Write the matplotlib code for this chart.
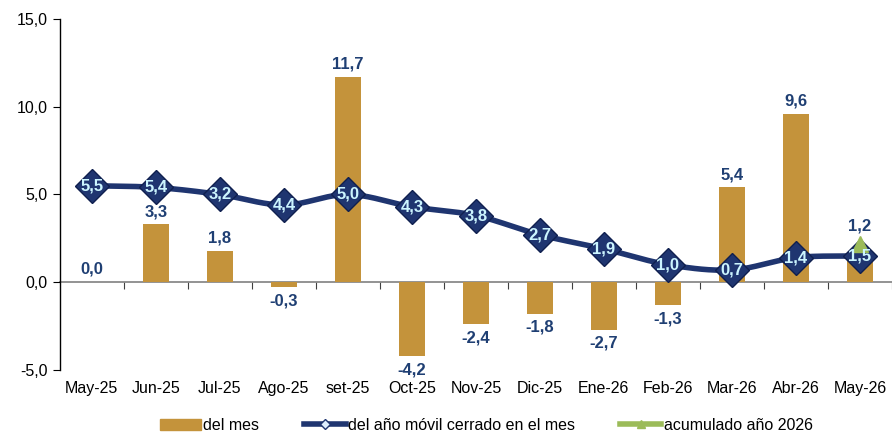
import numpy as np
import matplotlib
matplotlib.use("Agg")
from matplotlib import pyplot as plt
from matplotlib.lines import Line2D
from matplotlib.patches import Patch

plt.rcParams['font.family'] = ['Liberation Sans', 'DejaVu Sans']

months = ['May-25', 'Jun-25', 'Jul-25', 'Ago-25', 'set-25', 'Oct-25', 'Nov-25',
          'Dic-25', 'Ene-26', 'Feb-26', 'Mar-26', 'Abr-26', 'May-26']
del_mes = [0.0, 3.3, 1.8, -0.3, 11.7, -4.2, -2.4, -1.8, -2.7, -1.3, 5.4, 9.6, 1.2]
movil = [5.5, 5.4, 5.0, 4.4, 5.0, 4.3, 3.8, 2.7, 1.9, 1.0, 0.7, 1.4, 1.5]
movil_labels = ['5,5', '5,4', '3,2', '4,4', '5,0', '4,3', '3,8', '2,7', '1,9',
                '1,0', '0,7', '1,4', '1,5']
acum_idx = [12]
acum = [2.2]

gold = '#C4933B'
navy = '#1F3570'
label_blue = '#1F3F73'
green = '#9BBB59'

def smooth(xs, ys, n=20):
    # catmull-rom curve through the points, like Excel's smoothed line
    xs = np.asarray(xs, float)
    ys = np.asarray(ys, float)
    px = np.concatenate([[2 * xs[0] - xs[1]], xs, [2 * xs[-1] - xs[-2]]])
    py = np.concatenate([[2 * ys[0] - ys[1]], ys, [2 * ys[-1] - ys[-2]]])
    t = np.linspace(0, 1, n)
    ox, oy = [], []
    for i in range(1, len(px) - 2):
        for p, o in ((px, ox), (py, oy)):
            p0, p1, p2, p3 = p[i - 1], p[i], p[i + 1], p[i + 2]
            o.extend(0.5 * (2 * p1 + (-p0 + p2) * t
                            + (2 * p0 - 5 * p1 + 4 * p2 - p3) * t ** 2
                            + (-p0 + 3 * p1 - 3 * p2 + p3) * t ** 3))
    return ox, oy

fig = plt.figure(figsize=(8.92, 4.43), dpi=100)
ax = fig.add_axes([0.067, 0.165, 0.933, 0.792])

x = np.arange(len(months))
ax.bar(x, del_mes, width=0.4, color=gold, zorder=2)

sx, sy = smooth(x, movil)
ax.plot(sx, sy, color=navy, lw=4, solid_capstyle='round', zorder=3)
ax.plot(x, movil, ls='none', marker='D', ms=17, mfc=navy, mec='#0F1F4F', mew=1, zorder=4)
ax.plot(acum_idx, acum, ls='none', marker='^', ms=11, color=green, zorder=4.5)

for xi, v, lab in zip(x, movil, movil_labels):
    ax.text(xi, v, lab, ha='center', va='center', color='#CCF5FF', fontsize=12,
            fontweight='bold', zorder=5)

for xi, v in zip(x, del_mes):
    txt = f'{v:.1f}'.replace('.', ',')
    if xi == 12:
        ax.text(xi, v + 1.55, txt, ha='center', va='bottom', color=label_blue,
                fontsize=12, fontweight='bold', zorder=6)
    elif v >= 0:
        ax.text(xi, v + 0.3, txt, ha='center', va='bottom', color=label_blue,
                fontsize=12, fontweight='bold', zorder=6)
    else:
        ax.text(xi, v - 0.35, txt, ha='center', va='top', color=label_blue,
                fontsize=12, fontweight='bold', zorder=6)

ax.set_xlim(-0.5, 12.5)
ax.set_ylim(-5, 15)
ax.set_yticks([-5, 0, 5, 10, 15])
ax.set_yticklabels(['-5,0', '0,0', '5,0', '10,0', '15,0'])
ax.set_xticks(x)
ax.set_xticklabels(months)
ax.tick_params(axis='x', length=0, labelsize=11.5, pad=8)
ax.tick_params(axis='y', direction='out', length=5, labelsize=11.5, pad=4)
for s in ['top', 'right', 'bottom']:
    ax.spines[s].set_visible(False)
ax.spines['left'].set_linewidth(1)

# zero line with ticks between categories
sec = ax.secondary_xaxis(5 / 20)
sec.set_xticks(np.arange(0.5, 12.6, 1))
sec.set_xticklabels([])
sec.tick_params(direction='out', length=5, color='#404040')
sec.spines['bottom'].set_color('#808080')
sec.spines['bottom'].set_linewidth(1.2)

handles = [Patch(color=gold),
           Line2D([], [], color=navy, lw=4, marker='D', ms=5, mfc='#DDEEFF', mec=navy),
           Line2D([], [], color=green, lw=4, marker='^', ms=6)]
fig.legend(handles, ['del mes', 'del año móvil cerrado en el mes', 'acumulado año 2026'],
           loc='lower center', bbox_to_anchor=(0.545, -0.01), ncol=3, frameon=False,
           fontsize=11.5, handlelength=2.6, handletextpad=0.15, columnspacing=2.8)

fig.savefig('out.png', dpi=100)
